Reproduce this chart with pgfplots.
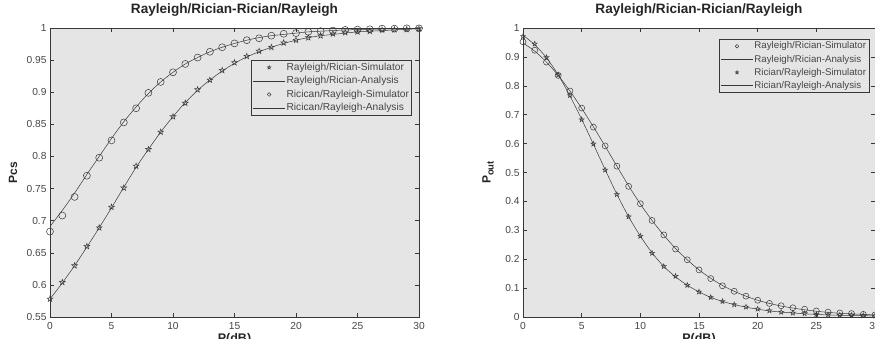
\documentclass[border=0pt]{standalone}
\usepackage{fontspec}
\setmainfont{Liberation Sans}
\usepackage{pgfplots}
\pgfplotsset{compat=1.18}
\definecolor{bg}{RGB}{229,229,229}
\definecolor{ln}{RGB}{55,55,55}
\definecolor{tx}{RGB}{70,70,70}
\pgfdeclareplotmark{pent}{%
  \pgfpathmoveto{\pgfpointpolar{90}{\pgfplotmarksize}}%
  \pgfpathlineto{\pgfpointpolar{126}{0.40\pgfplotmarksize}}%
  \pgfpathlineto{\pgfpointpolar{162}{\pgfplotmarksize}}%
  \pgfpathlineto{\pgfpointpolar{198}{0.40\pgfplotmarksize}}%
  \pgfpathlineto{\pgfpointpolar{234}{\pgfplotmarksize}}%
  \pgfpathlineto{\pgfpointpolar{270}{0.40\pgfplotmarksize}}%
  \pgfpathlineto{\pgfpointpolar{306}{\pgfplotmarksize}}%
  \pgfpathlineto{\pgfpointpolar{342}{0.40\pgfplotmarksize}}%
  \pgfpathlineto{\pgfpointpolar{18}{\pgfplotmarksize}}%
  \pgfpathlineto{\pgfpointpolar{54}{0.40\pgfplotmarksize}}%
  \pgfpathclose\pgfusepathqstroke}
\pgfplotsset{
  mystyle/.style={
    scale only axis, anchor=south west,
    xmin=0, xmax=30, xtick={0,5,10,15,20,25,30},
    axis background/.style={fill=bg},
    tick align=inside, major tick length=4pt,
    axis line style={ln, line width=0.6pt},
    every tick/.style={ln, line width=0.5pt},
    tick label style={font=\fontsize{10.2}{12}\selectfont, text=tx},
    xticklabel style={yshift=-1.5pt},
    /pgf/number format/assume math mode=true,
    title style={font=\bfseries\fontsize{13.6}{16}\selectfont, text=black!85,
      at={(axis description cs:0.5,1.0294)}, anchor=base, inner sep=0pt},
    every axis x label/.style={at={(axis description cs:0.5,-0.0875)}, anchor=base,
      inner sep=0pt, font=\bfseries\fontsize{12.5}{15}\selectfont, text=black!85},
    every axis y label/.style={rotate=90, anchor=center,
      font=\bfseries\fontsize{12}{15}\selectfont, text=black!85},
    legend cell align=left,
    legend image code/.code={\draw[mark repeat=2,mark phase=2,##1] plot coordinates {(0pt,0pt) (16pt,0pt) (32pt,0pt)};},
    legend image post style={mark size=1.8pt},
    legend style={anchor=north east, draw=ln, fill=bg, line width=0.5pt,
      font=\fontsize{10.2}{11}\selectfont, text=tx, row sep=2.2pt, inner sep=1.5pt,
      nodes={inner sep=1.2pt}},
  }
}
\begin{document}
\begin{tikzpicture}[x=1pt,y=1pt]
\begin{axis}[mystyle, at={(50pt,22pt)}, width=369pt, height=289pt,
  ymin=0.55, ymax=1, ytick={0.55,0.6,0.65,0.7,0.75,0.8,0.85,0.9,0.95,1},
  title={Rayleigh/Rician-Rician/Rayleigh}, xlabel={P(dB)}, ylabel={Pcs},
  ylabel style={at={(axis description cs:-0.1003,0.5)}},
  legend style={at={(0.981,0.889)}}]
\addplot[ln, only marks, mark=pent, mark size=3pt, line width=0.5pt] coordinates {
(0,0.578)(1,0.604)(2,0.630)(3,0.660)(4,0.689)(5,0.721)(6,0.751)(7,0.785)(8,0.811)(9,0.838)
(10,0.862)(11,0.883)(12,0.904)(13,0.919)(14,0.934)(15,0.946)(16,0.956)(17,0.964)(18,0.970)(19,0.977)
(20,0.981)(21,0.985)(22,0.988)(23,0.991)(24,0.993)(25,0.994)(26,0.995)(27,0.997)(28,0.9975)(29,0.998)(30,0.999)};
\addlegendentry{Rayleigh/Rician-Simulator}
\addplot[ln, no marks, smooth, line width=0.5pt] coordinates {
(0,0.578)(1,0.603)(2,0.630)(3,0.659)(4,0.689)(5,0.720)(6,0.752)(7,0.783)(8,0.811)(9,0.838)
(10,0.862)(11,0.884)(12,0.903)(13,0.919)(14,0.933)(15,0.945)(16,0.955)(17,0.963)(18,0.970)(19,0.976)
(20,0.981)(21,0.985)(22,0.988)(23,0.990)(24,0.992)(25,0.994)(26,0.995)(27,0.996)(28,0.997)(29,0.998)(30,0.999)};
\addlegendentry{Rayleigh/Rician-Analysis}
\addplot[ln, only marks, mark=o, mark size=3.5pt, line width=0.5pt] coordinates {
(0,0.683)(1,0.708)(2,0.737)(3,0.770)(4,0.798)(5,0.825)(6,0.853)(7,0.875)(8,0.899)(9,0.916)
(10,0.931)(11,0.944)(12,0.954)(13,0.963)(14,0.970)(15,0.976)(16,0.981)(17,0.984)(18,0.988)(19,0.991)
(20,0.992)(21,0.994)(22,0.995)(23,0.996)(24,0.997)(25,0.9975)(26,0.998)(27,0.999)(28,0.999)(29,0.9995)(30,0.9995)};
\addlegendentry{Ricican/Rayleigh-Simulator}
\addplot[ln, no marks, smooth, line width=0.5pt] coordinates {
(0,0.691)(1,0.716)(2,0.743)(3,0.772)(4,0.800)(5,0.828)(6,0.854)(7,0.877)(8,0.898)(9,0.916)
(10,0.931)(11,0.944)(12,0.954)(13,0.963)(14,0.970)(15,0.976)(16,0.981)(17,0.985)(18,0.988)(19,0.990)
(20,0.992)(21,0.994)(22,0.995)(23,0.996)(24,0.997)(25,0.9975)(26,0.998)(27,0.9985)(28,0.999)(29,0.9993)(30,0.9995)};
\addlegendentry{Ricican/Rayleigh-Analysis}
\end{axis}
\begin{axis}[mystyle, at={(523pt,22pt)}, width=352pt, height=289pt,
  ymin=0, ymax=1, ytick={0,0.1,0.2,0.3,0.4,0.5,0.6,0.7,0.8,0.9,1},
  title={Rayleigh/Rician-Rician/Rayleigh}, xlabel={P(dB)},
  ylabel={P\raisebox{-3pt}{\fontsize{9.5}{10}\selectfont out}},
  ylabel style={at={(axis description cs:-0.0994,0.5)}},
  legend style={at={(0.983,0.962)}, font=\fontsize{9.7}{10.5}\selectfont}]
\addplot[ln, only marks, mark=o, mark size=3pt, line width=0.5pt] coordinates {
(0,0.952)(1,0.923)(2,0.882)(3,0.836)(4,0.782)(5,0.723)(6,0.657)(7,0.592)(8,0.522)(9,0.452)
(10,0.392)(11,0.334)(12,0.284)(13,0.235)(14,0.198)(15,0.163)(16,0.133)(17,0.108)(18,0.089)(19,0.072)
(20,0.058)(21,0.047)(22,0.039)(23,0.032)(24,0.027)(25,0.021)(26,0.017)(27,0.014)(28,0.012)(29,0.009)(30,0.007)};
\addlegendentry{Rayleigh/Rician-Simulator}
\addplot[ln, no marks, smooth, line width=0.5pt] coordinates {
(0,0.948)(1,0.920)(2,0.882)(3,0.836)(4,0.782)(5,0.722)(6,0.658)(7,0.591)(8,0.522)(9,0.454)
(10,0.391)(11,0.334)(12,0.283)(13,0.237)(14,0.198)(15,0.163)(16,0.134)(17,0.109)(18,0.089)(19,0.072)
(20,0.058)(21,0.047)(22,0.038)(23,0.031)(24,0.025)(25,0.020)(26,0.016)(27,0.013)(28,0.011)(29,0.009)(30,0.007)};
\addlegendentry{Rayleigh/Rician-Analysis}
\addplot[ln, only marks, mark=pent, mark size=2.6pt, line width=0.5pt] coordinates {
(0,0.971)(1,0.945)(2,0.898)(3,0.838)(4,0.767)(5,0.683)(6,0.599)(7,0.509)(8,0.424)(9,0.347)
(10,0.280)(11,0.221)(12,0.175)(13,0.141)(14,0.110)(15,0.087)(16,0.068)(17,0.054)(18,0.043)(19,0.035)
(20,0.028)(21,0.022)(22,0.017)(23,0.014)(24,0.012)(25,0.009)(26,0.008)(27,0.007)(28,0.006)(29,0.005)(30,0.004)};
\addlegendentry{Rician/Rayleigh-Simulator}
\addplot[ln, no marks, smooth, line width=0.5pt] coordinates {
(0,0.975)(1,0.942)(2,0.897)(3,0.838)(4,0.765)(5,0.684)(6,0.598)(7,0.510)(8,0.425)(9,0.347)
(10,0.280)(11,0.222)(12,0.175)(13,0.139)(14,0.110)(15,0.087)(16,0.068)(17,0.054)(18,0.043)(19,0.034)
(20,0.027)(21,0.021)(22,0.017)(23,0.014)(24,0.011)(25,0.009)(26,0.007)(27,0.006)(28,0.005)(29,0.0045)(30,0.004)};
\addlegendentry{Rician/Rayleigh-Analysis}
\end{axis}
\pgfresetboundingbox
\useasboundingbox (0pt,0pt) rectangle (875pt,339pt);
\end{tikzpicture}
\end{document}
